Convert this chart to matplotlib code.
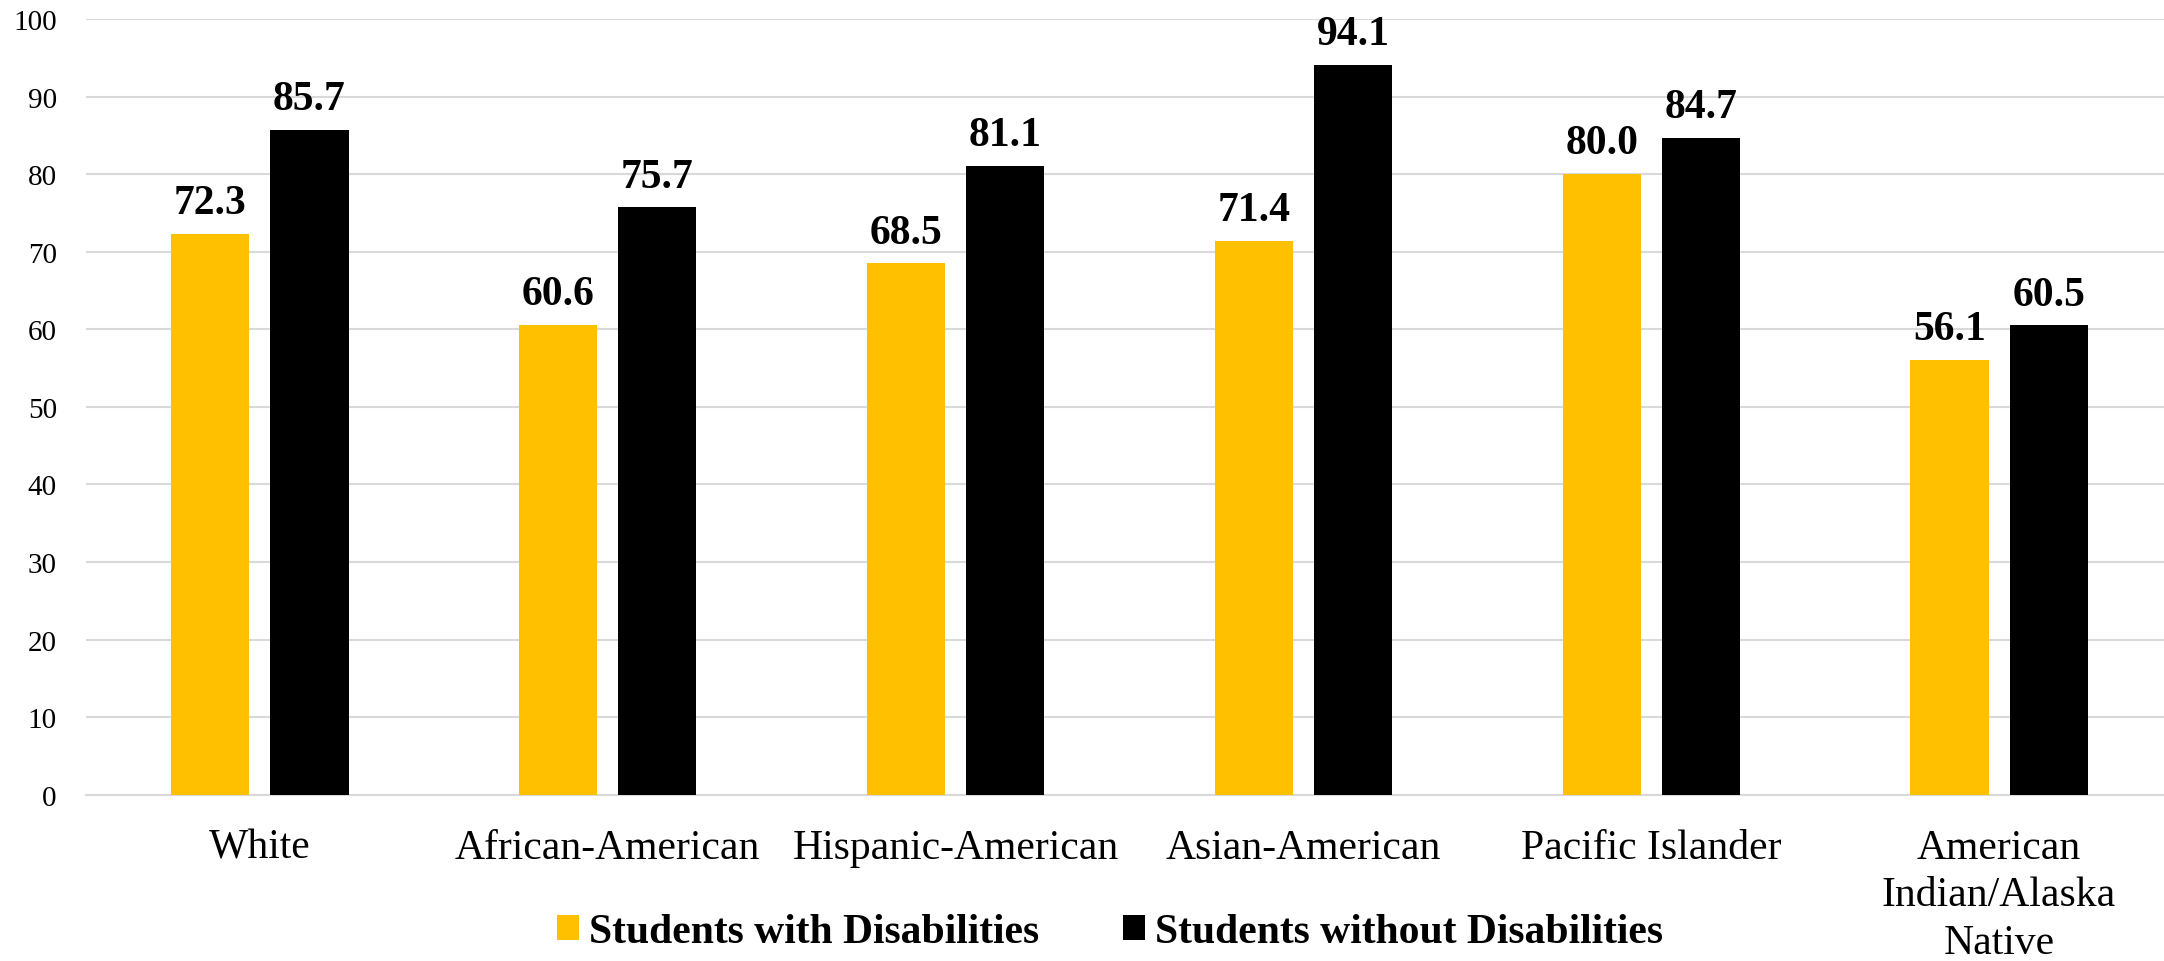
import matplotlib
matplotlib.use("Agg")
import matplotlib.pyplot as plt
import numpy as np

plt.rcParams["font.family"] = ["Liberation Serif", "DejaVu Serif"]

groups = ["White", "African-American", "Hispanic-American", "Asian-American",
          "Pacific Islander", "American\nIndian/Alaska\nNative"]
with_dis = [72.3, 60.6, 68.5, 71.4, 80.0, 56.1]
without_dis = [85.7, 75.7, 81.1, 94.1, 84.7, 60.5]
series_names = ["Students with Disabilities", "Students without Disabilities"]
yticks = list(range(0, 101, 10))

fig = plt.figure(figsize=(21.64, 9.62), dpi=100)
ax = fig.add_axes([86 / 2164, 1 - 795.7 / 962, 1 - 86 / 2164, (795.7 - 20) / 962])

x = np.arange(len(groups))
w = 0.225
off = 0.1425
b1 = ax.bar(x - off, with_dis, w, color="#FFC000", label=series_names[0], zorder=3)
b2 = ax.bar(x + off, without_dis, w, color="#000000", label=series_names[1], zorder=3)

# value labels above each bar
for bars, vals in ((b1, with_dis), (b2, without_dis)):
    for r, v in zip(bars, vals):
        ax.annotate(f"{v:.1f}", (r.get_x() + r.get_width() / 2, v),
                    xytext=(0, 15), textcoords="offset points",
                    ha="center", va="baseline", fontsize=30, fontweight="bold")

ax.set_ylim(0, 100)
ax.set_xlim(-0.5, 5.474)
ax.set_yticks(yticks)
ax.set_xticks(x)
ax.set_xticklabels(groups, fontsize=30, linespacing=1.32, va="top")
ax.tick_params(axis="y", length=0, pad=21, labelsize=21)
ax.tick_params(axis="x", length=0, pad=24)
ax.yaxis.grid(True, color="#D9D9D9", linewidth=1.5, zorder=0)
for s in ["top", "right", "left"]:
    ax.spines[s].set_visible(False)
ax.spines["bottom"].set_color("#D9D9D9")
ax.spines["bottom"].set_linewidth(1.5)

fig.legend(loc="center", bbox_to_anchor=(1110 / 2164, 1 - 933 / 962), ncol=2,
           frameon=False, prop={"size": 30, "weight": "bold"},
           handlelength=0.53, handleheight=0.53, handletextpad=0.25,
           columnspacing=2.0, borderaxespad=0, borderpad=0)

fig.savefig("out.png", dpi=100)
